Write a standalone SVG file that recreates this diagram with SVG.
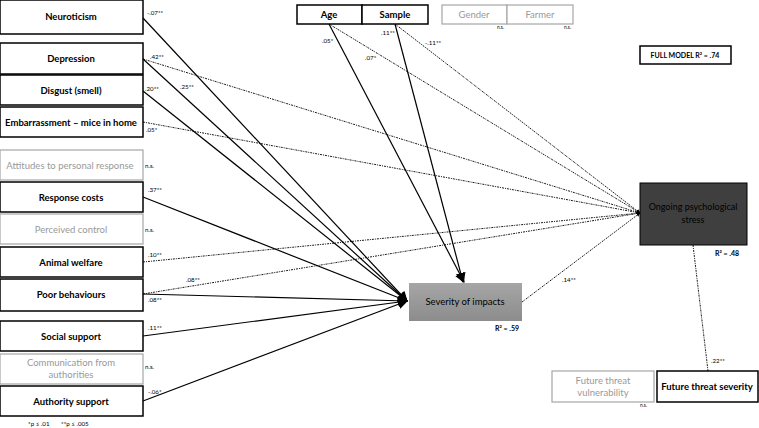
<svg xmlns="http://www.w3.org/2000/svg" width="759" height="428" viewBox="0 0 759 428">
  <defs>
    <linearGradient id="sevFill" x1="0" y1="0" x2="0" y2="1">
      <stop offset="0" stop-color="#a6a6a6"/>
      <stop offset="1" stop-color="#8c8c8c"/>
    </linearGradient>
    <marker id="arrS" viewBox="0 0 10 10" refX="9" refY="5" markerWidth="10" markerHeight="10" orient="auto" markerUnits="userSpaceOnUse">
      <path d="M0,0 L10,5 L0,10 z" fill="#000"/>
    </marker>
    <marker id="arrT" viewBox="0 0 10 10" refX="9" refY="5" markerWidth="4" markerHeight="4" orient="auto" markerUnits="userSpaceOnUse">
      <path d="M0,0 L10,5 L0,10 z" fill="#000"/>
    </marker>
  </defs>
  <style>
    text { font-family: Lato, "Liberation Sans", sans-serif; }
    .box { fill: #fff; stroke: #000; stroke-width: 1.5; }
    .gbox { fill: #fff; stroke: #a6a6a6; stroke-width: 1.2; }
    .t { font-size: 9.5px; font-weight: bold; fill: #000; text-anchor: middle; }
    .gt { font-size: 9.5px; fill: #999; text-anchor: middle; }
    .lbl { font-size: 6.2px; fill: #000; }
    .r2 { font-size: 7px; font-weight: bold; fill: #000; }
    .solid { stroke: #000; stroke-width: 1.2; fill: none; }
    .dash { stroke: #000; stroke-width: 0.9; stroke-dasharray: 2 1 1 1; fill: none; }
  </style>
  <rect width="759" height="428" fill="#fff"/>

  <!-- connectors -->
  <g id="connectors">
    <!-- paths into severity of impacts -->
    <line class="solid" x1="143" y1="18" x2="407" y2="301" marker-end="url(#arrS)"/>
    <line class="solid" x1="143" y1="59" x2="407" y2="301" marker-end="url(#arrS)"/>
    <line class="solid" x1="143" y1="91" x2="407" y2="301" marker-end="url(#arrS)"/>
    <line class="solid" x1="143" y1="197" x2="407" y2="301" marker-end="url(#arrS)"/>
    <line class="solid" x1="143" y1="294" x2="407" y2="301" marker-end="url(#arrS)"/>
    <line class="solid" x1="143" y1="336" x2="407" y2="301" marker-end="url(#arrS)"/>
    <line class="solid" x1="143" y1="401" x2="407" y2="301" marker-end="url(#arrS)"/>
    <line class="solid" x1="329" y1="24" x2="464" y2="282" marker-end="url(#arrS)"/>
    <line class="solid" x1="395" y1="24" x2="463" y2="282" marker-end="url(#arrS)"/>
    <!-- paths into ongoing psychological stress -->
    <line class="dash" x1="143" y1="59" x2="640" y2="213" marker-end="url(#arrT)"/>
    <line class="dash" x1="143" y1="122" x2="640" y2="213" marker-end="url(#arrT)"/>
    <line class="dash" x1="143" y1="262" x2="640" y2="213" marker-end="url(#arrT)"/>
    <line class="dash" x1="143" y1="294" x2="640" y2="213" marker-end="url(#arrT)"/>
    <line class="dash" x1="329" y1="24" x2="640" y2="213" marker-end="url(#arrT)"/>
    <line class="dash" x1="395" y1="24" x2="640" y2="213" marker-end="url(#arrT)"/>
    <line class="dash" x1="522" y1="302" x2="640" y2="213" marker-end="url(#arrT)"/>
    <!-- stress to future threat severity -->
    <line class="dash" x1="693" y1="245" x2="708" y2="371"/>
  </g>

  <!-- path coefficients -->
  <g id="coefficients">
    <text class="lbl" x="147" y="15">-.07**</text>
    <text class="lbl" x="150" y="59">.42**</text>
    <text class="lbl" x="180" y="89">.25**</text>
    <text class="lbl" x="145" y="91">.20**</text>
    <text class="lbl" x="146" y="132">.05*</text>
    <text class="lbl" x="145" y="168">n.s.</text>
    <text class="lbl" x="148" y="192">.37**</text>
    <text class="lbl" x="145" y="232">n.s.</text>
    <text class="lbl" x="148" y="257">.10**</text>
    <text class="lbl" x="186" y="282">.08**</text>
    <text class="lbl" x="148" y="302">.08**</text>
    <text class="lbl" x="148" y="330">.11**</text>
    <text class="lbl" x="145" y="369">n.s.</text>
    <text class="lbl" x="148" y="394">-.06*</text>
    <text class="lbl" x="322" y="43">.05*</text>
    <text class="lbl" x="381" y="35">.11**</text>
    <text class="lbl" x="425" y="45">-.11**</text>
    <text class="lbl" x="365" y="60">.07*</text>
    <text class="lbl" x="562" y="282">.14**</text>
    <text class="lbl" x="711" y="363">.22**</text>
    <text class="lbl" x="497" y="29" style="font-size:4.8px">n.s.</text>
    <text class="lbl" x="564" y="29" style="font-size:4.8px">n.s.</text>
    <text class="lbl" x="640" y="407" style="font-size:4.8px">n.s.</text>
  </g>

  <!-- predictors -->
  <g id="neuroticism"><rect class="box" x="0" y="0" width="143" height="34"/><text class="t" x="71" y="20">Neuroticism</text></g>
  <g id="depression"><rect class="box" x="0" y="43" width="143" height="31"/><text class="t" x="71" y="62">Depression</text></g>
  <g id="disgust"><rect class="box" x="0" y="75" width="143" height="30"/><text class="t" x="71" y="94">Disgust (smell)</text></g>
  <g id="embarrassment"><rect class="box" x="0" y="107" width="143" height="30"/><text class="t" x="71" y="126">Embarrassment – mice in home</text></g>
  <g id="attitudes"><rect class="gbox" x="0" y="150" width="143" height="30"/><text class="gt" x="70" y="169">Attitudes to personal response</text></g>
  <g id="response-costs"><rect class="box" x="0" y="182" width="143" height="30"/><text class="t" x="71" y="201">Response costs</text></g>
  <g id="perceived-control"><rect class="gbox" x="0" y="214" width="143" height="30"/><text class="gt" x="71" y="233">Perceived control</text></g>
  <g id="animal-welfare"><rect class="box" x="0" y="247" width="143" height="30"/><text class="t" x="71" y="266">Animal welfare</text></g>
  <g id="poor-behaviours"><rect class="box" x="0" y="279" width="143" height="32"/><text class="t" x="71" y="298">Poor behaviours</text></g>
  <g id="social-support"><rect class="box" x="0" y="321" width="143" height="30"/><text class="t" x="71" y="340">Social support</text></g>
  <g id="communication"><rect class="gbox" x="0" y="354" width="143" height="30"/><text class="gt" x="71" y="366">Communication from</text><text class="gt" x="71" y="378">authorities</text></g>
  <g id="authority-support"><rect class="box" x="0" y="386" width="143" height="30"/><text class="t" x="71" y="405">Authority support</text></g>

  <g id="age"><rect class="box" x="297" y="5" width="65" height="19"/><text class="t" x="329" y="18">Age</text></g>
  <g id="sample"><rect class="box" x="362" y="5" width="66" height="19"/><text class="t" x="395" y="18">Sample</text></g>
  <g id="gender"><rect class="gbox" x="442" y="5" width="65" height="19"/><text class="gt" x="474" y="18">Gender</text></g>
  <g id="farmer"><rect class="gbox" x="507" y="5" width="66" height="19"/><text class="gt" x="540" y="18">Farmer</text></g>

  <!-- outcomes -->
  <g id="severity">
    <rect x="409" y="283" width="113" height="38" fill="url(#sevFill)"/>
    <text class="t" x="465" y="305" style="font-weight:normal">Severity of impacts</text>
    <text class="r2" x="495" y="331">R² = .59</text>
  </g>
  <g id="stress">
    <rect x="640" y="183" width="107" height="62" fill="#3f3f3f" stroke="#000" stroke-width="1"/>
    <text class="t" x="693" y="210" style="font-weight:normal;font-size:9px">Ongoing psychological</text>
    <text class="t" x="693" y="223" style="font-weight:normal;font-size:9px">stress</text>
    <text class="r2" x="715" y="256">R² = .48</text>
  </g>
  <g id="future-vulnerability"><rect class="gbox" x="552" y="371" width="102" height="31"/><text class="gt" x="603" y="384">Future threat</text><text class="gt" x="603" y="396">vulnerability</text></g>
  <g id="future-severity"><rect class="box" x="657" y="371" width="101" height="31"/><text class="t" x="707" y="390">Future threat severity</text></g>

  <g id="full-model"><rect class="box" x="640" y="46" width="91" height="18"/><text class="r2" x="685" y="58" text-anchor="middle">FULL MODEL R² = .74</text></g>

  <text class="lbl" x="28" y="426">*p ≤ .01</text>
  <text class="lbl" x="61" y="426">**p ≤ .005</text>
</svg>
